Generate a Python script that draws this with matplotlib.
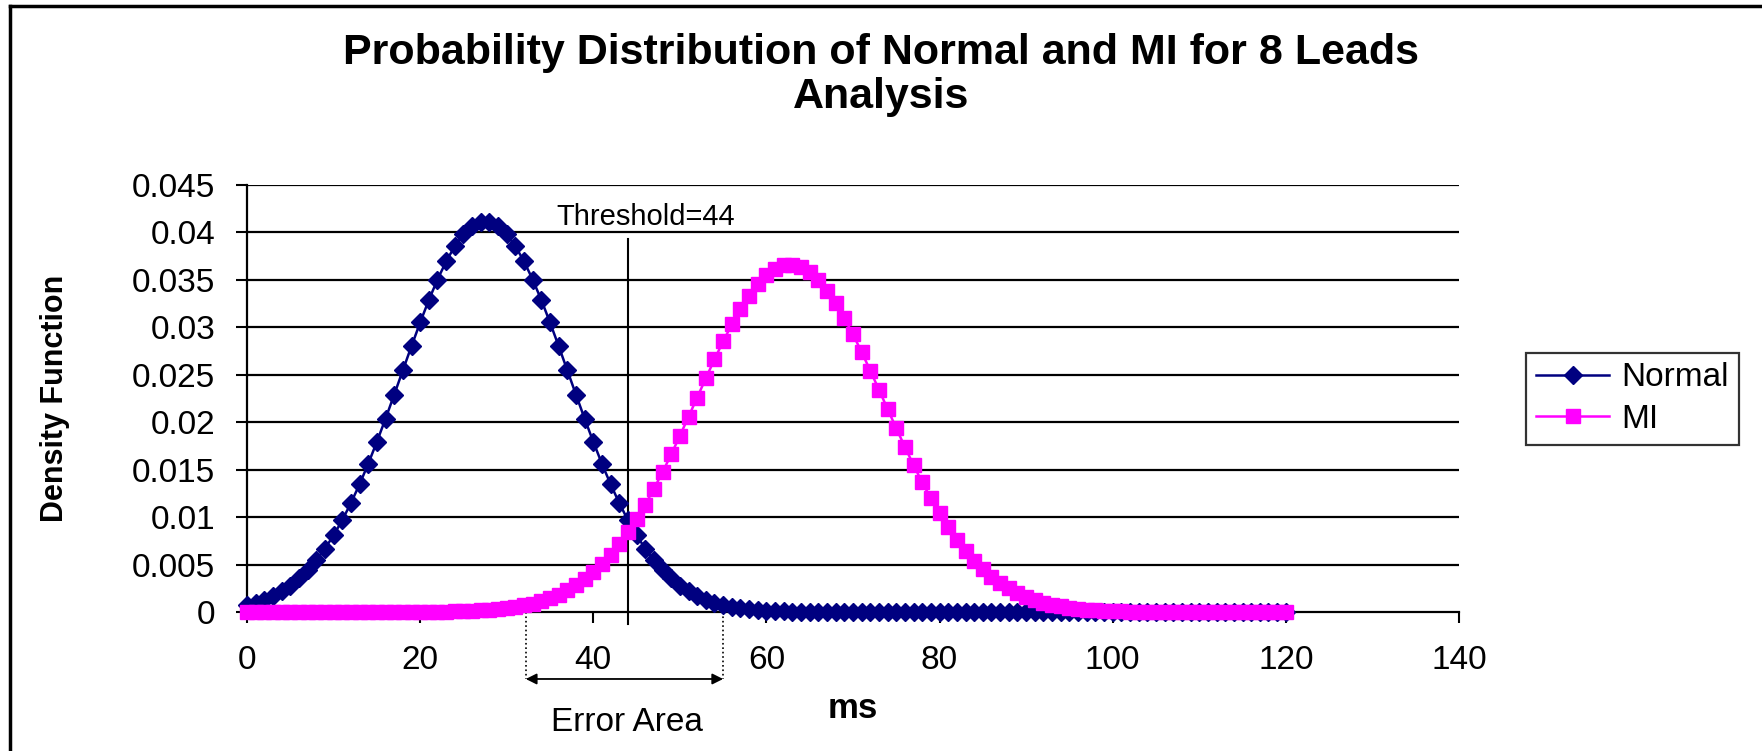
import matplotlib
matplotlib.use("Agg")
import matplotlib.pyplot as plt
from matplotlib.lines import Line2D

plt.rcParams['font.family'] = ['Liberation Sans', 'DejaVu Sans']

# x axis: time in ms, one point per ms
x_ms = list(range(0, 121))

normal_density = [
    0.00074, 0.00099, 0.00130, 0.00169, 0.00219, 0.00279, 0.00353, 0.00441, 0.00546, 0.00668,
    0.00808, 0.00968, 0.01148, 0.01346, 0.01562, 0.01794, 0.02037, 0.02290, 0.02547, 0.02802,
    0.03051, 0.03287, 0.03503, 0.03694, 0.03855, 0.03980, 0.04065, 0.04109, 0.04109, 0.04065,
    0.03980, 0.03855, 0.03694, 0.03503, 0.03287, 0.03051, 0.02802, 0.02547, 0.02290, 0.02037,
    0.01794, 0.01562, 0.01346, 0.01148, 0.00968, 0.00808, 0.00668, 0.00546, 0.00441, 0.00353,
    0.00279, 0.00219, 0.00169, 0.00130, 0.00099, 0.00074, 0.00055, 0.00040, 0.00029, 0.00021,
    0.00015, 0.00011, 0.00007, 0.00005, 0.00003, 0.00002, 0.00001, 0.00001, 0.0, 0.0,
    0.0, 0.0, 0.0, 0.0, 0.0, 0.0, 0.0, 0.0, 0.0, 0.0,
    0.0, 0.0, 0.0, 0.0, 0.0, 0.0, 0.0, 0.0, 0.0, 0.0,
    0.0, 0.0, 0.0, 0.0, 0.0, 0.0, 0.0, 0.0, 0.0, 0.0,
    0.0, 0.0, 0.0, 0.0, 0.0, 0.0, 0.0, 0.0, 0.0, 0.0,
    0.0, 0.0, 0.0, 0.0, 0.0, 0.0, 0.0, 0.0, 0.0, 0.0,
    0.0,
]

mi_density = [
    0.0, 0.0, 0.0, 0.0, 0.0, 0.0, 0.0, 0.0, 0.0, 0.0,
    0.0, 0.0, 0.0, 0.000001, 0.000002, 0.000003, 0.000004, 0.000006, 0.000008, 0.000012,
    0.000017, 0.000024, 0.000034, 0.000048, 0.000067, 0.000092, 0.000126, 0.000171, 0.000230, 0.000307,
    0.000407, 0.000533, 0.000693, 0.000894, 0.001143, 0.001449, 0.001822, 0.002271, 0.002807, 0.003441,
    0.004183, 0.005043, 0.006032, 0.007148, 0.008400, 0.009787, 0.01132, 0.01297, 0.01474, 0.01661,
    0.01856, 0.02057, 0.02260, 0.02463, 0.02662, 0.02852, 0.03030, 0.03192, 0.03335, 0.03455,
    0.03550, 0.03616, 0.03652, 0.03659, 0.03634, 0.03579, 0.03496, 0.03386, 0.03252, 0.03097,
    0.02925, 0.02739, 0.02543, 0.02342, 0.02139, 0.01936, 0.01739, 0.01547, 0.01366, 0.01196,
    0.01038, 0.00894, 0.00763, 0.00646, 0.00542, 0.00451, 0.00373, 0.00305, 0.00248, 0.00199,
    0.00159, 0.00126, 0.00099, 0.00077, 0.00059, 0.00045, 0.00034, 0.00026, 0.00019, 0.00014,
    0.00010, 0.00008, 0.00005, 0.00004, 0.00003, 0.00002, 0.00001, 0.00001, 0.0, 0.0,
    0.0, 0.0, 0.0, 0.0, 0.0, 0.0, 0.0, 0.0, 0.0, 0.0,
    0.0,
]

x_ticks = [0, 20, 40, 60, 80, 100, 120, 140]
y_ticks = [0, 0.005, 0.01, 0.015, 0.02, 0.025, 0.03, 0.035, 0.04, 0.045]
y_tick_labels = ['0', '0.005', '0.01', '0.015', '0.02', '0.025', '0.03', '0.035', '0.04', '0.045']

threshold = 44
error_area = (32.2, 55.0)

NAVY = '#000080'
MAGENTA = '#FF00FF'

fig = plt.figure(figsize=(17.62, 7.51), dpi=100)
ax = fig.add_axes([0.1402, 0.1851, 0.8280 - 0.1402, 0.7537 - 0.1851])

# horizontal gridlines (Excel style, black)
for yv in y_ticks[1:]:
    ax.axhline(yv, color='black', lw=1.6, zorder=1)

# threshold line
ax.plot([threshold, threshold], [-0.00126, 0.0393], color='black', lw=1.5,
        zorder=2, clip_on=False)
ax.text(threshold + 2.0, 0.04015, 'Threshold=44', fontsize=21, ha='center',
        va='bottom', zorder=5)

ax.plot(x_ms, normal_density, color=NAVY, lw=1.8, marker='D', ms=9,
        markeredgecolor=NAVY, label='Normal', zorder=3, clip_on=False)
ax.plot(x_ms, mi_density, color=MAGENTA, lw=1.8, marker='s', ms=9.5,
        markeredgecolor=MAGENTA, label='MI', zorder=4, clip_on=False)

ax.set_xlim(0, 140)
ax.set_ylim(0, 0.045)
ax.set_xticks(x_ticks)
ax.set_yticks(y_ticks)
ax.set_yticklabels(y_tick_labels)
ax.tick_params(axis='both', direction='out', length=8, width=1.5,
               labelsize=24, color='black')
ax.tick_params(axis='y', pad=15)
ax.tick_params(axis='x', pad=16)

for side in ['top', 'right']:
    ax.spines[side].set_visible(False)
for side in ['left', 'bottom']:
    ax.spines[side].set_linewidth(1.6)
    ax.spines[side].set_zorder(2)

ax.set_ylabel('Density Function', fontsize=22, fontweight='bold',
              family=['Liberation Sans Narrow', 'Liberation Sans'])
ax.yaxis.set_label_coords(-0.146, 0.5)
ax.set_xlabel('ms', fontsize=25, fontweight='bold', va='center')
ax.xaxis.set_label_coords(0.5, -0.225)

# error area annotation below the axis
y_arrow = -0.00706
for xv in error_area:
    ax.plot([xv, xv], [0, y_arrow], color='black', lw=1.2, ls=':', clip_on=False)
ax.annotate('', xy=(error_area[0], y_arrow), xytext=(error_area[1], y_arrow),
            arrowprops=dict(arrowstyle='<|-|>', color='black', lw=1.3,
                            mutation_scale=16, shrinkA=0, shrinkB=0),
            annotation_clip=False)
ax.text(43.9, -0.0116, 'Error Area', fontsize=24, ha='center', va='center')

fig.text(0.5, 1 - 75 / 751, 'Probability Distribution of Normal and MI for 8 Leads\nAnalysis',
         fontsize=31, fontweight='bold', ha='center', va='center', linespacing=1.15)

leg = ax.legend(loc='center left', bbox_to_anchor=(1526 / 1762, 1 - 398.5 / 751),
                bbox_transform=fig.transFigure, fontsize=24, frameon=True,
                fancybox=False, edgecolor='black', handlelength=2.2,
                handletextpad=0.35, labelspacing=0.3, borderpad=0.3,
                borderaxespad=0)
leg.get_frame().set_linewidth(1.6)

# outer chart border (top and left visible)
fig.add_artist(Line2D([10 / 1762, 10 / 1762], [0, 1 - 6 / 751], color='black', lw=2.5))
fig.add_artist(Line2D([10 / 1762, 1], [1 - 6 / 751, 1 - 6 / 751], color='black', lw=2.5))

fig.savefig('out.png', dpi=100)
